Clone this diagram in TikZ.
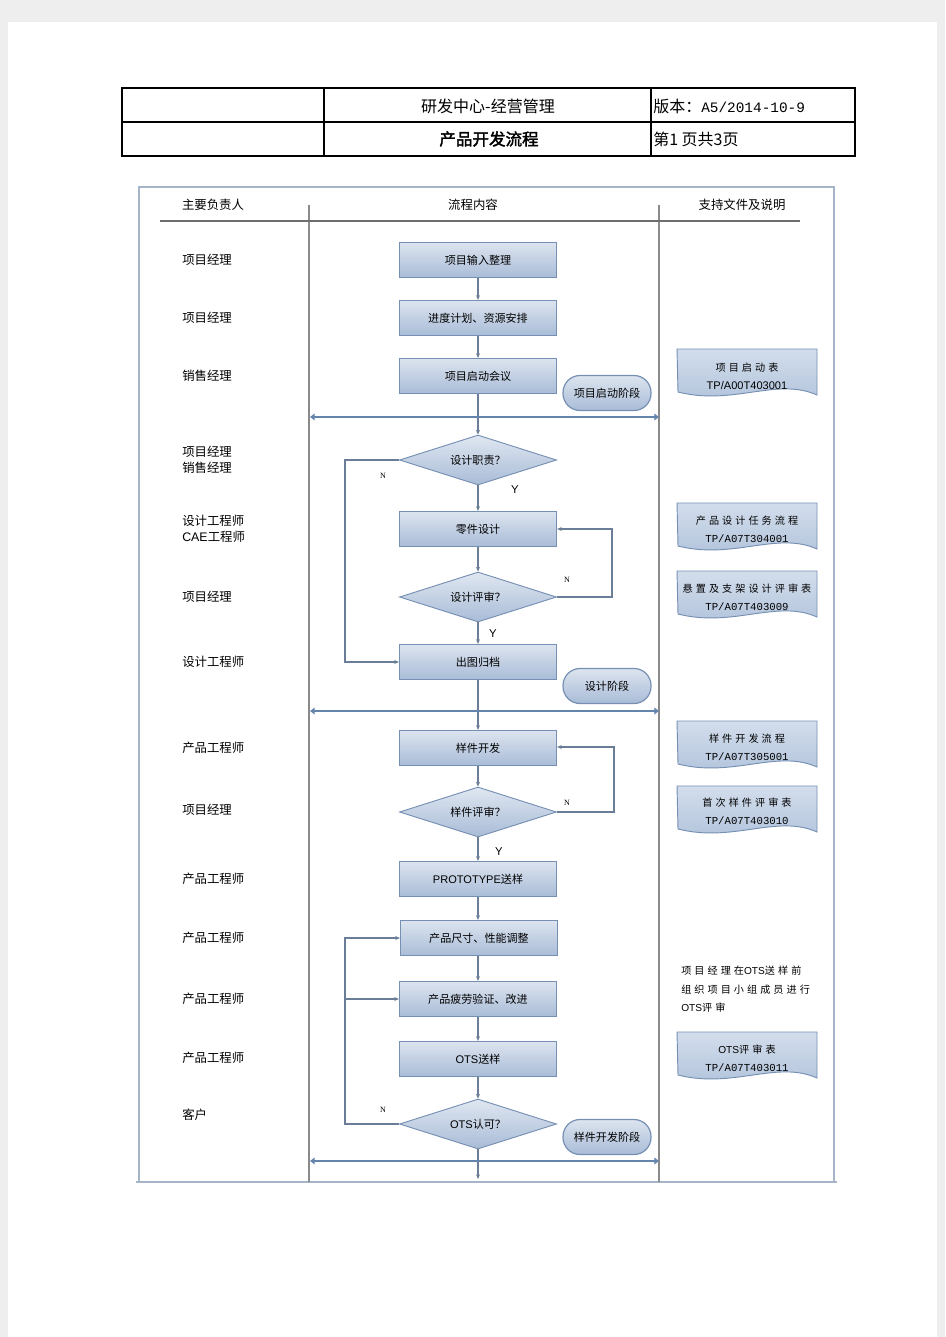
\documentclass[tikz,border=0pt]{standalone}
\usepackage{fontspec}
\setmainfont{Liberation Sans}
\newfontfamily\cjk{Noto Sans CJK SC}
\newfontfamily\cjkb[FakeBold=2]{Noto Sans CJK SC}
\newfontfamily\cjksp[LetterSpace=30]{Noto Sans CJK SC}
\newfontfamily\monof{Liberation Mono}
\newfontfamily\serf{Liberation Serif}
\newfontfamily\arialf{Liberation Sans}
\usetikzlibrary{shapes.geometric,arrows.meta}
\definecolor{pagegray}{HTML}{EEEEEE}
\definecolor{boxtop}{HTML}{DCE4EF}
\definecolor{boxbot}{HTML}{A9BCD7}
\definecolor{boxline}{HTML}{7690B4}
\definecolor{flowc}{HTML}{6B7E98}
\definecolor{stagec}{HTML}{6584AC}
\definecolor{framec}{HTML}{A7B5C9}
\definecolor{colc}{HTML}{8A8A8A}
\definecolor{doctop}{HTML}{D3DEEC}
\definecolor{docbot}{HTML}{AFC1DA}
\tikzset{
  proc/.style={rectangle, draw=boxline, line width=0.9pt, top color=boxtop, bottom color=boxbot,
    minimum width={157*0.75pt}, minimum height={35*0.75pt}, inner sep=0pt,
    font=\cjk\fontsize{8.3}{10}\selectfont},
  decis/.style={diamond, aspect=3.14, draw=boxline, line width=0.7pt, top color=boxtop!90!white, bottom color=boxbot,
    minimum width={157*0.75pt}, minimum height={50*0.75pt}, inner sep=0pt,
    font=\cjk\fontsize{8.3}{10}\selectfont},
  stagebox/.style={rectangle, rounded corners={17*0.75pt}, draw=boxline, line width=0.9pt, top color=boxtop, bottom color=boxbot,
    minimum width={88*0.75pt}, minimum height={35*0.75pt}, inner sep=0pt,
    font=\cjk\fontsize{8.3}{10}\selectfont},
  flow/.style={draw=flowc, line width=0.8pt, -{Stealth[length=3.5pt,width=3pt]}},
  stageline/.style={draw=stagec, line width=1.6pt, {Triangle[length=3.5pt,width=5pt]}-{Triangle[length=3.5pt,width=5pt]}},
  role/.style={anchor=west, inner sep=0pt, font=\cjk\fontsize{9.3}{12}\selectfont, align=left},
  colhead/.style={inner sep=0pt, font=\cjk\fontsize{9.3}{11}\selectfont},
  hdr/.style={inner sep=0pt, font=\cjk\fontsize{12}{14}\selectfont},
  doctext/.style={inner sep=0pt, align=center, font=\cjksp\fontsize{7.6}{13.5}\selectfont},
  yn/.style={inner sep=0pt, font=\serf\fontsize{6}{7}\selectfont},
  ylab/.style={inner sep=0pt, font=\arialf\fontsize{8.5}{10}\selectfont},
  docshape/.style={draw=boxline, line width=0.7pt, top color=doctop, bottom color=docbot}
}
\newcommand{\docpath}[2]{%
  \path[docshape] (#1,#2) -- ++(140,0) -- ++(0,46)
    .. controls ++(-40,-18) and ++(55,14) .. ++(-139,-3) -- cycle;}
\begin{document}
\begin{tikzpicture}[x=0.75pt,y=-0.75pt]
\fill[pagegray] (0,0) rectangle (945,1337);
\fill[white] (8,22) rectangle (937,1337);
\useasboundingbox (0,0) rectangle (945,1337);

% header table
\draw[line width=1.4pt] (122,88) rectangle (855,156);
\draw[line width=0.8pt] (122,122) -- (855,122) (324,88) -- (324,156) (651,88) -- (651,156);
\node[hdr] (h1) at (488,106) {研发中心-经营管理};
\node[hdr, anchor=west] (h2) at (653,106) {版本：{\monof\fontsize{10.8}{14}\selectfont A5/2014-10-9}};
\node[hdr, font=\cjkb\fontsize{12.4}{14}\selectfont] (h3) at (489,139) {产品开发流程};
\node[hdr, anchor=west] (h4) at (653,139) {第1 页共3页};

% frame
\draw[framec, line width=1pt] (139,1182) -- (139,187) -- (834,187) -- (834,1182);
\draw[framec, line width=1pt] (136,1182) -- (837,1182);
\draw[colc, line width=0.9pt] (309,205) -- (309,1182) (659,205) -- (659,1182);
\draw[colc!80!black, line width=1.6pt] (160,221) -- (800,221);
\node[colhead] (c1) at (213,205) {主要负责人};
\node[colhead] (c2) at (473,205) {流程内容};
\node[colhead] (c3) at (742,205) {支持文件及说明};

% roles
\node[role] (r1) at (182,260) {项目经理};
\node[role] (r2) at (182,318) {项目经理};
\node[role] (r3) at (182,376) {销售经理};
\node[role] (r4) at (182,460) {项目经理\\销售经理};
\node[role] (r5) at (182,529) {设计工程师\\{\arialf CAE}工程师};
\node[role] (r6) at (182,597) {项目经理};
\node[role] (r7) at (182,662) {设计工程师};
\node[role] (r8) at (182,748) {产品工程师};
\node[role] (r9) at (182,810) {项目经理};
\node[role] (r10) at (182,879) {产品工程师};
\node[role] (r11) at (182,938) {产品工程师};
\node[role] (r12) at (182,999) {产品工程师};
\node[role] (r13) at (182,1058) {产品工程师};
\node[role] (r14) at (182,1115) {客户};

% stage lines
\coordinate (s1l) at (310,417); \coordinate (s1r) at (659,417);
\coordinate (s2l) at (310,711); \coordinate (s2r) at (659,711);
\coordinate (s3l) at (310,1161); \coordinate (s3r) at (659,1161);

% flow nodes
\node[proc] (b1) at (478,260) {项目输入整理};
\node[proc] (b2) at (478,318) {进度计划、资源安排};
\node[proc] (b3) at (478,376) {项目启动会议};
\node[stagebox] (p1) at (607,393) {项目启动阶段};
\node[decis] (d1) at (478,460) {设计职责？};
\node[proc] (b4) at (478,529) {零件设计};
\node[decis] (d2) at (478,597) {设计评审？};
\node[proc] (b5) at (478,662) {出图归档};
\node[stagebox] (p2) at (607,686) {设计阶段};
\node[proc] (b6) at (478,748) {样件开发};
\node[decis] (d3) at (478,812) {样件评审？};
\node[proc, font=\arialf\fontsize{8.3}{10}\selectfont] (b7) at (478,879) {PROTOTYPE{\cjk 送样}};
\node[proc] (b8) at (479,938) {产品尺寸、性能调整};
\node[proc] (b9) at (478,999) {产品疲劳验证、改进};
\node[proc] (b10) at (478,1059) {{\arialf OTS}送样};
\node[decis] (d4) at (478,1124) {{\arialf OTS}认可？};
\node[stagebox] (p3) at (607,1137) {样件开发阶段};
\coordinate (endc) at (478,1179);

% main flow
\draw[flow] (b1) -- (b2);
\draw[flow] (b2) -- (b3);
\draw[flow] (b3) -- (d1);
\draw[flow] (d1) -- (b4);
\draw[flow] (b4) -- (d2);
\draw[flow] (d2) -- (b5);
\draw[flow] (b5) -- (b6);
\draw[flow] (b6) -- (d3);
\draw[flow] (d3) -- (b7);
\draw[flow] (b7.south) -- (b8.north -| b7.south);
\draw[flow] (b8.south -| b9.north) -- (b9.north);
\draw[flow] (b9) -- (b10);
\draw[flow] (b10) -- (d4);
\draw[flow] (d4) -- (endc);

% loops
\draw[flow] (d1.west) -- (345,460) -- (345,662) -- (b5.west);
\draw[flow] (d2.east) -- (612,597) -- (612,529) -- (b4.east);
\draw[flow] (d3.east) -- (614,812) -- (614,747) -- (b6.east |- 0,747);
\draw[flow] (d4.west) -- (345,1124) -- (345,938) -- (b8.west);
\draw[flow] (345,999) -- (b9.west);

% stage lines on top
\draw[stageline] (s1l) -- (s1r);
\draw[stageline] (s2l) -- (s2r);
\draw[stageline] (s3l) -- (s3r);

% Y/N labels
\node[yn] (n1) at (383,476) {N};
\node[ylab] (y1) at (515,490) {Y};
\node[yn] (n2) at (567,580) {N};
\node[ylab] (y2) at (493,634) {Y};
\node[yn] (n3) at (567,803) {N};
\node[ylab] (y3) at (499,852) {Y};
\node[yn] (n4) at (383,1110) {N};

% documents
\docpath{677}{349}
\node[doctext] (t1) at (747,376) {项目启动表\\{\arialf\fontsize{8.3}{10}\selectfont TP/A00T403001}};
\docpath{677}{503}
\node[doctext] (t2) at (747,529) {产品设计任务流程\\{\monof\fontsize{8}{10}\selectfont TP/A07T304001}};
\docpath{677}{571}
\node[doctext] (t3) at (747,597) {悬置及支架设计评审表\\{\monof\fontsize{8}{10}\selectfont TP/A07T403009}};
\docpath{677}{721}
\node[doctext] (t4) at (747,747) {样件开发流程\\{\monof\fontsize{8}{10}\selectfont TP/A07T305001}};
\docpath{677}{786}
\node[doctext] (t5) at (747,811) {首次样件评审表\\{\monof\fontsize{8}{10}\selectfont TP/A07T403010}};
\docpath{677}{1032}
\node[doctext] (t6) at (747,1058) {{\arialf OTS}评审表\\{\monof\fontsize{8}{10}\selectfont TP/A07T403011}};

\node[doctext, anchor=north west, align=left, font=\cjksp\fontsize{7.6}{13.8}\selectfont] (note) at (681,966)
  {项目经理在{\arialf OTS}送样前\\组织项目小组成员进行\\{\arialf OTS}评审};
\end{tikzpicture}
\end{document}
